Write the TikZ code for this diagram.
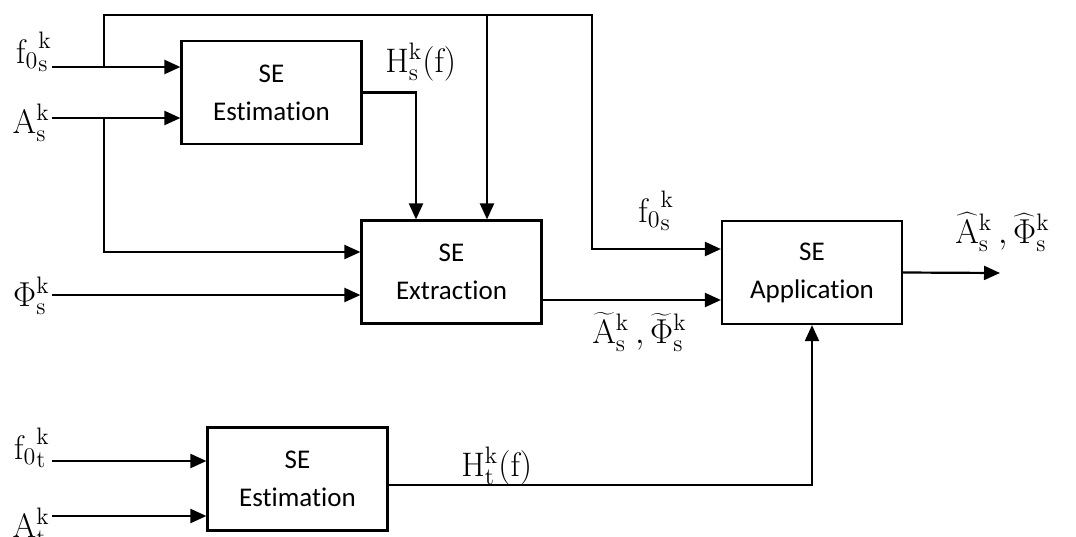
\documentclass[tikz,border=0pt]{standalone}
\usepackage{fontspec}
\newfontfamily\boxfont{Carlito}[Ligatures={NoCommon}]
\usetikzlibrary{arrows.meta}

\begin{document}
\begin{tikzpicture}[
  x=0.5pt, y=-0.5pt,
  block/.style={draw, line width=1.1pt, minimum width=90pt, minimum height=51.5pt,
                align=center, inner sep=2pt, font=\boxfont\fontsize{13.5}{19}\selectfont},
  sig/.style={font=\fontsize{17}{20}\selectfont, inner sep=0pt},
  wire/.style={line width=1.1pt},
  arr/.style={wire, -{Triangle[length=8pt, width=7pt]}}
]
\useasboundingbox (0,0) rectangle (1076,536);

\node[block] (est1) at (271.5,92.5) {SE\\Estimation};
\node[block] (ext)  at (451.5,272) {SE\\Extraction};
\node[block] (app)  at (812,272.5) {SE\\Application};
\node[block] (est2) at (297.5,479) {SE\\Estimation};

% inputs
\coordinate (fsin) at (52,67);
\coordinate (asin) at (52,118);
\coordinate (phin) at (52,295);
\coordinate (ftin) at (52,461);
\coordinate (atin) at (52,516);

\node[sig, anchor=base east] (fslab)  at (52,63)  {${\mathrm{f}_0}_\mathrm{s}^\mathrm{k}$};
\node[sig, anchor=base east] (aslab)  at (50,133) {$\mathrm{A}_\mathrm{s}^\mathrm{k}$};
\node[sig, anchor=base east] (philab) at (50,306) {$\Phi_\mathrm{s}^\mathrm{k}$};
\node[sig, anchor=base east] (ftlab)  at (50,459) {${\mathrm{f}_0}_\mathrm{t}^\mathrm{k}$};
\node[sig, anchor=base east] (atlab)  at (50,537) {$\mathrm{A}_\mathrm{t}^\mathrm{k}$};

\draw[arr] (fsin) -- (fsin -| est1.west);
\draw[arr] (asin) -- (asin -| est1.west);
\draw[arr] (phin) -- (phin -| ext.west);
\draw[arr] (ftin) -- (ftin -| est2.west);
\draw[arr] (atin) -- (atin -| est2.west);

% f0 feed over the top
\coordinate (fsj)   at (104,67);
\coordinate (topl)  at (104,15);
\coordinate (topm)  at (487,15);
\coordinate (topr)  at (592,15);
\coordinate (f0app) at (592,249);
\draw[arr] (fsj) -- (topl) -- (topr) -- (f0app) -- (f0app -| app.west);
\draw[arr] (topm) -- (topm |- ext.north);

% A_s branch
\coordinate (asj)   at (104,118);
\coordinate (asext) at (104,252);
\draw[arr] (asj) -- (asext) -- (asext -| ext.west);

% H_s(f)
\coordinate (hsx) at (416,0);
\draw[arr] (est1.east) -| (hsx |- ext.north);
\node[sig, anchor=base west] (hslab) at (385,72) {$\mathrm{H}_\mathrm{s}^\mathrm{k}(\mathrm{f})$};

\node[sig, anchor=base west] (f0lab) at (638,222) {${\mathrm{f}_0}_\mathrm{s}^\mathrm{k}$};

% extraction -> application
\coordinate (tl) at (542,300);
\draw[arr] (tl) -- (tl -| app.west);
\node[sig, anchor=base west] (tlab) at (592,343)
  {$\widetilde{\mathrm{A}}_\mathrm{s}^\mathrm{k}\,, \widetilde{\Phi}_\mathrm{s}^\mathrm{k}$};

% output
\coordinate (out) at (1000,273);
\draw[arr] (app.east) -- (out);
\node[sig, anchor=base west] (hatlab) at (955,243)
  {$\widehat{\mathrm{A}}_\mathrm{s}^\mathrm{k}\,, \widehat{\Phi}_\mathrm{s}^\mathrm{k}$};

% H_t(f)
\coordinate (htx) at (808,485);
\draw[arr] (est2.east |- htx) -| (app.south);
\node[sig, anchor=base west] (htlab) at (461,476) {$\mathrm{H}_\mathrm{t}^\mathrm{k}(\mathrm{f})$};
\end{tikzpicture}
\end{document}
